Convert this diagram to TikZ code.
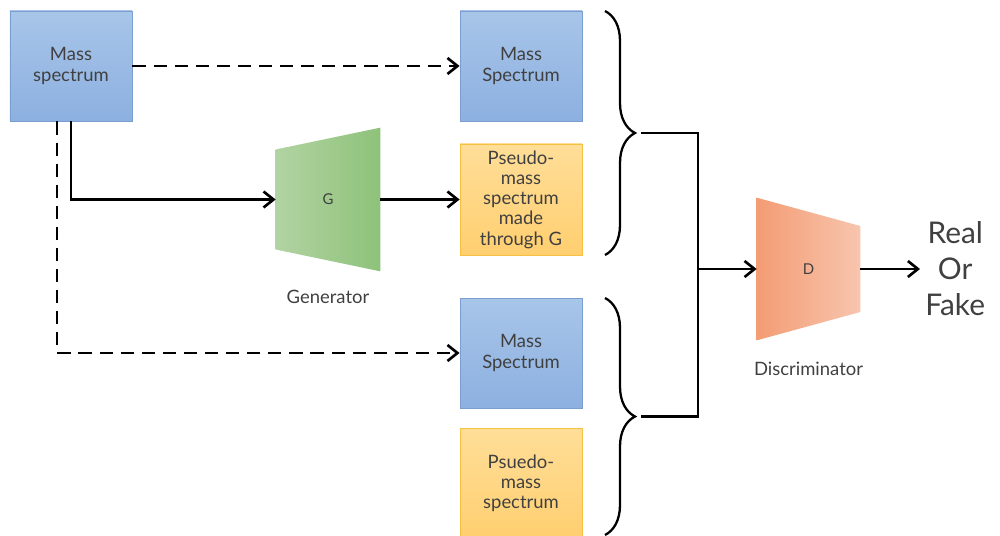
\documentclass[tikz,border=0pt]{standalone}
\usepackage{fontspec}
\setmainfont{Lato}
\usetikzlibrary{arrows.meta,positioning,calc,decorations.pathreplacing,backgrounds}
\definecolor{specblue}{RGB}{168,197,233}
\definecolor{specbluedk}{RGB}{140,176,224}
\definecolor{specline}{RGB}{122,158,207}
\definecolor{fakeyel}{RGB}{255,222,152}
\definecolor{fakeyeldk}{RGB}{255,207,112}
\definecolor{fakeline}{RGB}{246,192,66}
\definecolor{genlight}{RGB}{178,211,162}
\definecolor{gendark}{RGB}{142,194,122}
\definecolor{disdark}{RGB}{244,156,116}
\definecolor{dislight}{RGB}{247,197,174}
\definecolor{txtgray}{RGB}{64,64,64}

\begin{document}
\begin{tikzpicture}[
  box/.style={minimum width=2.44cm, minimum height=2.2cm, align=center,
              font=\fontsize{10.5}{11.5}\selectfont, text=txtgray, line width=0.5pt},
  spec/.style={box, draw=specline, top color=specblue, bottom color=specbluedk},
  fake/.style={box, draw=fakeline, top color=fakeyel, bottom color=fakeyeldk},
  net/.style={minimum width=2.08cm, minimum height=2.86cm, font=\fontsize{8.5}{10}\selectfont, text=txtgray},
  caption/.style={font=\fontsize{10.5}{12}\selectfont, text=txtgray},
  verdict/.style={align=center, font=\fontsize{17}{20.5}\selectfont, text=black!75, inner sep=1mm},
  arrow/.style={-{Straight Barb[length=2mm,width=3.2mm]}, line width=1.5pt},
  dashline/.style={arrow, dash pattern=on 7.5pt off 4.5pt},
  link/.style={line width=1.5pt},
  bracket/.style={decorate, decoration={brace, amplitude=0.6cm}, line width=1.3pt}
]
  \useasboundingbox (0,0) rectangle (20,10.7);

  % spectra
  \node[spec] (mass) at (1.42,9.38) {Mass\\spectrum};
  \node[spec] (real) at (10.42,9.38) {Mass\\Spectrum};
  \node[fake, minimum height=2.22cm] (fakeG) at (10.42,6.71) {Pseudo-\\mass\\spectrum\\made\\through G};
  \node[spec] (realB) at (10.42,3.64) {Mass\\Spectrum};
  \node[fake] (fakeB) at (10.42,1.04) {Psuedo-\\mass\\spectrum};

  % networks
  \node[net] (gen) at (6.56,6.71) {G};
  \node[caption, below=2.5mm of gen] (genlbl) {Generator};
  \node[net, minimum width=2.06cm, minimum height=2.84cm] (dis) at (16.17,5.32) {D};
  \node[caption, below=3mm of dis] (dislbl) {Discriminator};
  \node[verdict, anchor=west] (out) at (18.4,5.32) {Real\\Or\\Fake};

  \begin{scope}[on background layer]
    \shade[left color=genlight, right color=gendark]
      ($(gen.west)+(0,1)$) -- (gen.north east) -- (gen.south east) -- ($(gen.west)+(0,-1)$) -- cycle;
    \shade[left color=disdark, right color=dislight]
      (dis.north west) -- ($(dis.east)+(0,0.86)$) -- ($(dis.east)+(0,-0.86)$) -- (dis.south west) -- cycle;
  \end{scope}

  % braces
  \draw[bracket] (12.1,10.48) -- (12.1,5.6);
  \draw[bracket] (12.1,4.74) -- (12.1,0);
  \coordinate (tipA) at (12.82,8.04);
  \coordinate (tipB) at (12.82,2.37);
  \coordinate (join) at (13.96,5.32);

  \draw[dashline] (mass) -- (real);
  \draw[arrow] (mass.south) |- (gen);
  \draw[arrow] (gen) -- (fakeG);
  \draw[dashline] ($(mass.south)+(-0.28,0)$) |- (realB);
  \draw[link] (tipA) -| (join) |- (tipB);
  \draw[arrow] (join) -- (dis);
  \draw[arrow] (dis) -- (out);
\end{tikzpicture}
\end{document}
